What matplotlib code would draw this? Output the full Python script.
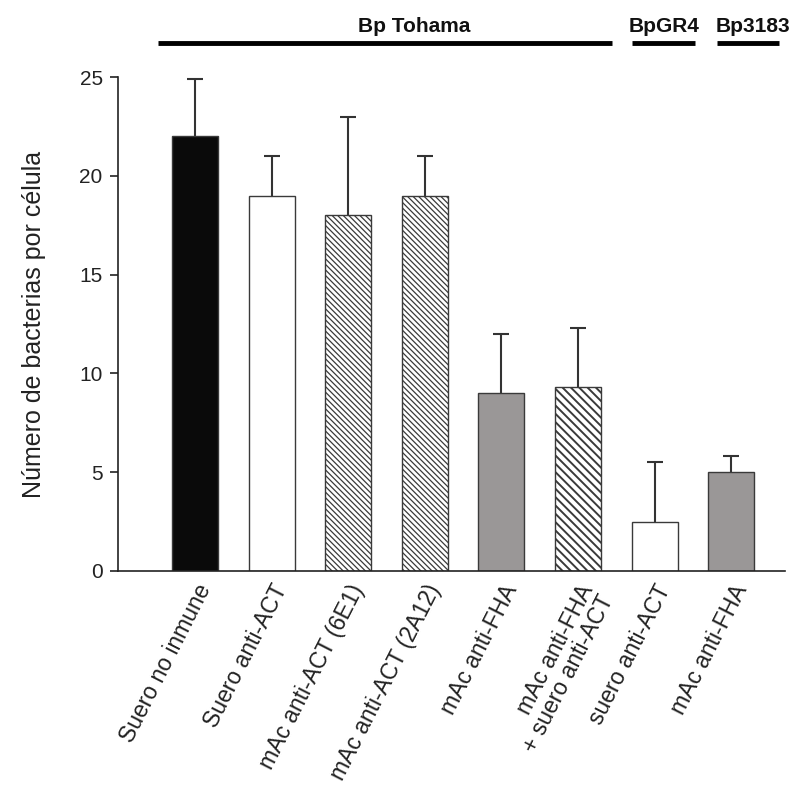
import matplotlib
matplotlib.use('Agg')
import matplotlib.pyplot as plt
import matplotlib.transforms as mtransforms

plt.rcParams['font.family'] = ['Liberation Sans', 'DejaVu Sans']
plt.rcParams['hatch.linewidth'] = 0.9

# datos
labels = ['Suero no inmune', 'Suero anti-ACT', 'mAc anti-ACT (6E1)',
          'mAc anti-ACT (2A12)', 'mAc anti-FHA',
          'mAc anti-FHA\n+ suero anti-ACT', 'suero anti-ACT', 'mAc anti-FHA']
valores = [22, 19, 18, 19, 9, 9.3, 2.5, 5]
errores = [2.9, 2, 5, 2, 3, 3, 3, 0.8]
colores = ['#0a0a0a', 'white', 'white', 'white', '#9a9797', 'white', 'white', '#9a9797']
tramas = [None, None, '\\\\\\\\\\\\', '\\\\\\\\\\\\', None, '\\\\\\\\', None, None]

grupos = ['Bp Tohama', 'BpGR4', 'Bp3183']
grupo_ini = [-0.48, 5.70, 6.81]
grupo_fin = [5.44, 6.53, 7.62]
grupo_txt = [2.86, 6.12, 7.28]

fig = plt.figure(figsize=(8, 7.89), dpi=100)
ax = fig.add_axes([0.1475, 0.2763, 0.834, 0.6261])

x = range(len(valores))
bars = ax.bar(x, valores, width=0.6, color=colores, edgecolor='#3a3a3a',
              linewidth=1.0, zorder=2)
for b, h in zip(bars, tramas):
    if h:
        b.set_hatch(h)
# la barra combinada tiene lineas mas gruesas
if hasattr(bars[5], 'set_hatch_linewidth'):
    bars[5].set_hatch_linewidth(1.4)

eb = ax.errorbar(x, valores, yerr=[[0] * len(errores), errores], fmt='none',
                 ecolor='#333333', elinewidth=1.5, capsize=6, capthick=1.5,
                 zorder=1)
# solo la tapa superior
eb[1][0].set_visible(False)

ax.set_xlim(-1.005, 7.705)
ax.set_ylim(0, 25)
ax.set_yticks([0, 5, 10, 15, 20, 25])
ax.spines['right'].set_color('none')
ax.spines['top'].set_color('none')
ax.spines['left'].set_color('#222222')
ax.spines['bottom'].set_color('#222222')
ax.spines['left'].set_linewidth(1.2)
ax.spines['bottom'].set_linewidth(1.2)
ax.tick_params(axis='y', direction='out', length=6, width=1.2, labelsize=15,
               colors='#222222', pad=5)
ax.tick_params(axis='x', length=0, pad=7)
ax.set_xticks(list(x))
ax.set_xticklabels(labels, rotation=63, ha='right', va='top',
                   rotation_mode='anchor', fontsize=16.5, color='#222222',
                   multialignment='right', linespacing=0.95)
ax.set_ylabel('Número de bacterias por célula', fontsize=18, color='#222222',
              labelpad=24)

trans = mtransforms.blended_transform_factory(ax.transData, fig.transFigure)
for nombre, a, b, t in zip(grupos, grupo_ini, grupo_fin, grupo_txt):
    ax.plot([a, b], [0.9455, 0.9455], color='black', lw=3.5, transform=trans,
            clip_on=False, solid_capstyle='butt')
    ax.text(t, 0.955, nombre, transform=trans, ha='center',
            va='bottom', fontsize=15, fontweight='bold', color='#111111')

fig.savefig('out.png', dpi=100)
